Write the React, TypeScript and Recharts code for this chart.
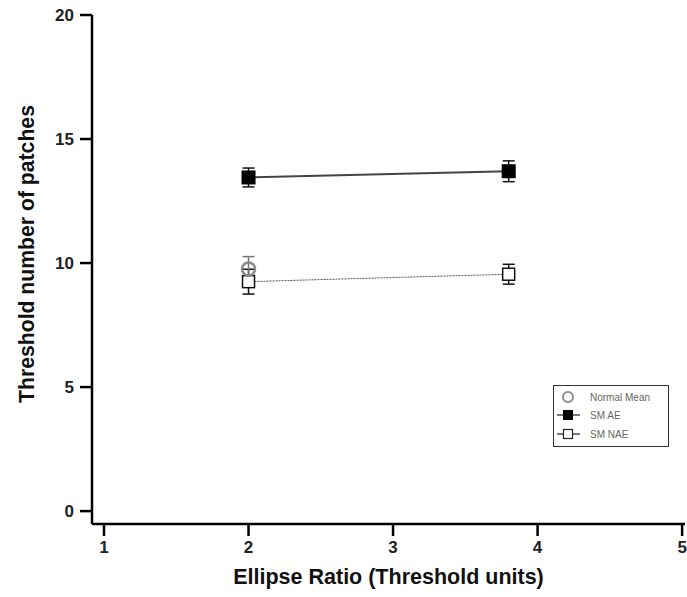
import React from 'react';
import { ComposedChart, Line, XAxis, YAxis, ErrorBar, Label } from 'recharts';

const xTicks = [1, 2, 3, 4, 5];
const yTicks = [0, 5, 10, 15, 20];
const ellipseRatios = [2, 3.8];
const smAEValues = [13.45, 13.7];
const smAEErrors = [0.38, 0.42];
const smNAEValues = [9.25, 9.55];
const smNAEErrors = [0.5, 0.4];
const normalRatios = [2];
const normalValues = [9.76];
const normalErrors = [0.5];
const legendLabels = ['Normal Mean', 'SM AE', 'SM NAE'];

const smAEData = ellipseRatios.map((x, i) => ({ x, y: smAEValues[i], err: smAEErrors[i] }));
const smNAEData = ellipseRatios.map((x, i) => ({ x, y: smNAEValues[i], err: smNAEErrors[i] }));
const normalData = normalRatios.map((x, i) => ({ x, y: normalValues[i], err: normalErrors[i] }));

const FONT = '"Liberation Sans", Arial, Helvetica, sans-serif';

const FilledSquare = (props: any) => {
  const { cx, cy } = props;
  if (cx == null || cy == null) return null;
  return <rect x={cx - 6.5} y={cy - 6.5} width={13} height={13} fill="#000" stroke="#000" strokeWidth={1} />;
};
const OpenSquare = (props: any) => {
  const { cx, cy } = props;
  if (cx == null || cy == null) return null;
  return <rect x={cx - 6} y={cy - 6} width={12} height={12} fill="#fff" stroke="#111" strokeWidth={1.5} />;
};
const GrayCircle = (props: any) => {
  const { cx, cy } = props;
  if (cx == null || cy == null) return null;
  return <circle cx={cx} cy={cy} r={6.5} fill="none" stroke="#8a8a8a" strokeWidth={2.5} />;
};

const LegendBox = () => (
  <div
    style={{
      position: 'absolute',
      left: 553,
      top: 385,
      width: 116,
      height: 62,
      border: '1.5px solid #333',
      boxSizing: 'border-box',
      background: '#fff',
    }}
  >
    <svg width={113} height={59} style={{ display: 'block' }}>
      <circle cx={14} cy={11} r={5} fill="none" stroke="#8a8a8a" strokeWidth={2} />
      <text x={36} y={14.5} fontSize={10} fill="#666" fontFamily={FONT}>{legendLabels[0]}</text>
      <line x1={3} y1={29} x2={26} y2={29} stroke="#222" strokeWidth={1.2} />
      <rect x={9} y={24} width={10} height={10} fill="#000" />
      <text x={36} y={32.5} fontSize={10} fill="#666" fontFamily={FONT}>{legendLabels[1]}</text>
      <line x1={3} y1={48} x2={26} y2={48} stroke="#222" strokeWidth={1.2} />
      <rect x={9.5} y={43.5} width={9} height={9} fill="#fff" stroke="#222" strokeWidth={1.2} />
      <text x={36} y={51.5} fontSize={10} fill="#666" fontFamily={FONT}>{legendLabels[2]}</text>
    </svg>
  </div>
);

const tickStyle = { fontSize: 17, fontWeight: 'bold', fill: '#222', fontFamily: FONT };

export default function App() {
  return (
    <div style={{ position: 'absolute', left: 0, top: 0, width: 687, height: 597, background: '#fff' }}>
      <ComposedChart
        width={687}
        height={597}
        margin={{ top: 15, right: 2, left: 0, bottom: 13 }}
        style={{ fontFamily: FONT }}
      >
        <XAxis
          type="number"
          dataKey="x"
          domain={[0.917, 5.02]}
          ticks={xTicks}
          allowDataOverflow
          height={60}
          tickSize={12}
          tickMargin={5}
          tick={tickStyle}
          axisLine={{ stroke: '#000', strokeWidth: 2.5 }}
          tickLine={{ stroke: '#000', strokeWidth: 2.5 }}
        >
          <Label
            value="Ellipse Ratio (Threshold units)"
            position="insideBottom"
            offset={0}
            style={{ fontSize: 21.5, fontWeight: 'bold', fill: '#111', fontFamily: FONT }}
          />
        </XAxis>
        <YAxis
          type="number"
          dataKey="y"
          domain={[-0.52, 20]}
          ticks={yTicks}
          allowDataOverflow
          width={92}
          tickSize={12}
          tickMargin={6}
          tick={tickStyle}
          axisLine={{ stroke: '#000', strokeWidth: 2.5 }}
          tickLine={{ stroke: '#000', strokeWidth: 2.5 }}
        >
          <Label
            content={() => (
              <text
                x={26}
                y={254}
                transform="rotate(-90 26 254)"
                textAnchor="middle"
                dominantBaseline="central"
                fontSize={21.2}
                fontWeight="bold"
                fill="#111"
                fontFamily={FONT}
              >
                Threshold number of patches
              </text>
            )}
          />
        </YAxis>
        <Line
          data={smNAEData}
          dataKey="y"
          name="SM NAE"
          stroke="#555"
          strokeWidth={1}
          strokeDasharray="2 1"
          dot={<OpenSquare />}
          activeDot={false}
          isAnimationActive={false}
        >
          <ErrorBar dataKey="err" direction="y" width={6} stroke="#111" strokeWidth={1.5} />
        </Line>
        <Line
          data={normalData}
          dataKey="y"
          name="Normal Mean"
          stroke="none"
          dot={<GrayCircle />}
          activeDot={false}
          isAnimationActive={false}
        >
          <ErrorBar dataKey="err" direction="y" width={6} stroke="#777" strokeWidth={1.5} />
        </Line>
        <Line
          data={smAEData}
          dataKey="y"
          name="SM AE"
          stroke="#444"
          strokeWidth={2}
          dot={<FilledSquare />}
          activeDot={false}
          isAnimationActive={false}
        >
          <ErrorBar dataKey="err" direction="y" width={6} stroke="#111" strokeWidth={1.5} />
        </Line>
      </ComposedChart>
      <LegendBox />
    </div>
  );
}
